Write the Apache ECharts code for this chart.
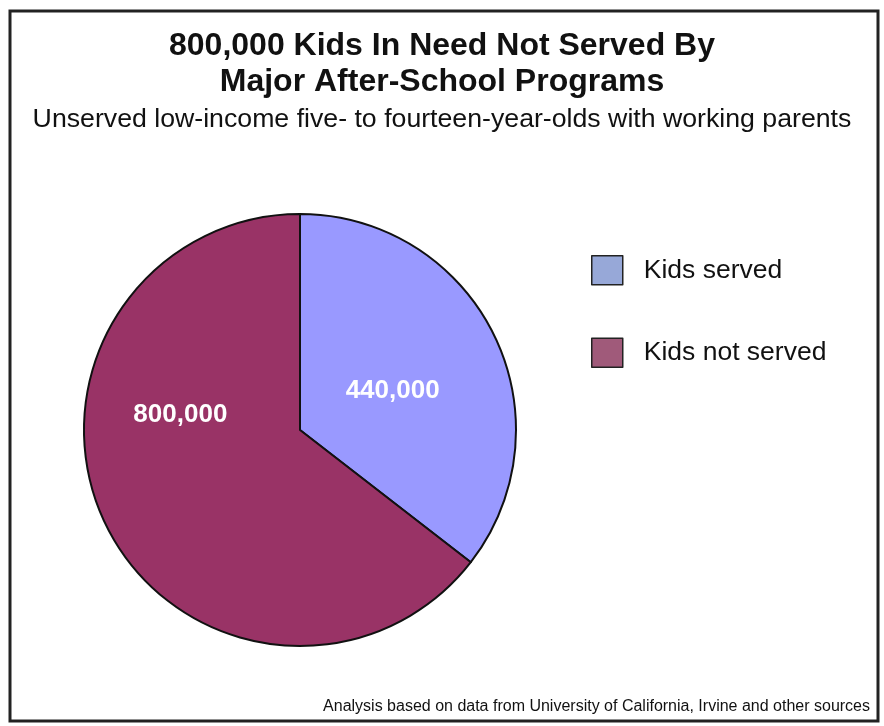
<!DOCTYPE html>
<html>
<head>
<meta charset="utf-8">
<script src="https://cdn.jsdelivr.net/npm/echarts@6/dist/echarts.min.js"></script>
<style>
  html, body { margin: 0; padding: 0; background: #fff; }
  #chart { width: 884px; height: 726px; }
</style>
</head>
<body>
<div id="chart"></div>
<script>
const categories = ["Kids served", "Kids not served"];
const values = [440000, 800000];
const sliceColors = ["#9999ff", "#993366"];
const legendColors = ["#97a8d8", "#a05a7a"];

const FONT = "Liberation Sans, Arial, sans-serif";

const chart = echarts.init(document.getElementById("chart"));

chart.setOption({
  backgroundColor: "#fff",
  animation: false,
  title: [
    {
      text: "800,000 Kids In Need Not Served By\nMajor After-School Programs",
      left: "center",
      top: 28,
      padding: 0,
      textStyle: { fontFamily: FONT, fontSize: 32, fontWeight: "bold", color: "#111", lineHeight: 36 },
      subtext: "Unserved low-income five- to fourteen-year-olds with working parents",
      subtextStyle: { fontFamily: FONT, fontSize: 26.7, color: "#111", lineHeight: 30 },
      itemGap: 5
    },
    {
      text: "Analysis based on data from University of California, Irvine and other sources",
      right: 14,
      top: 699,
      padding: 0,
      textStyle: { fontFamily: FONT, fontSize: 16, fontWeight: "normal", color: "#111" }
    }
  ],
  legend: {
    orient: "vertical",
    left: 591,
    top: 255,
    padding: 0,
    itemWidth: 31,
    itemHeight: 29,
    itemGap: 52,
    textStyle: { fontFamily: FONT, fontSize: 26.5, color: "#111", padding: [0, 0, 0, 16] },
    data: categories.map((c, i) => ({
      name: c,
      icon: "rect",
      itemStyle: { color: legendColors[i], borderColor: "#222", borderWidth: 1.5 }
    }))
  },
  graphic: [
    {
      type: "rect",
      shape: { x: 10, y: 11, width: 868, height: 710 },
      style: { fill: null, stroke: "#222", lineWidth: 3 },
      silent: true
    }
  ],
  series: [
    {
      type: "pie",
      center: [300, 430],
      radius: 216,
      startAngle: 90,
      clockwise: true,
      label: {
        show: true,
        position: "inside",
        fontFamily: FONT,
        fontSize: 26,
        fontWeight: "bold",
        color: "#fff",
        formatter: (p) => p.value.toLocaleString("en-US")
      },
      labelLine: { show: false },
      itemStyle: { borderColor: "#111", borderWidth: 2 },
      emphasis: { disabled: true },
      data: categories.map((c, i) => ({
        name: c,
        value: values[i],
        itemStyle: { color: sliceColors[i] },
        label: { offset: i === 0 ? [-7, 10] : [-20, -64] }
      }))
    }
  ]
});
</script>
</body>
</html>
